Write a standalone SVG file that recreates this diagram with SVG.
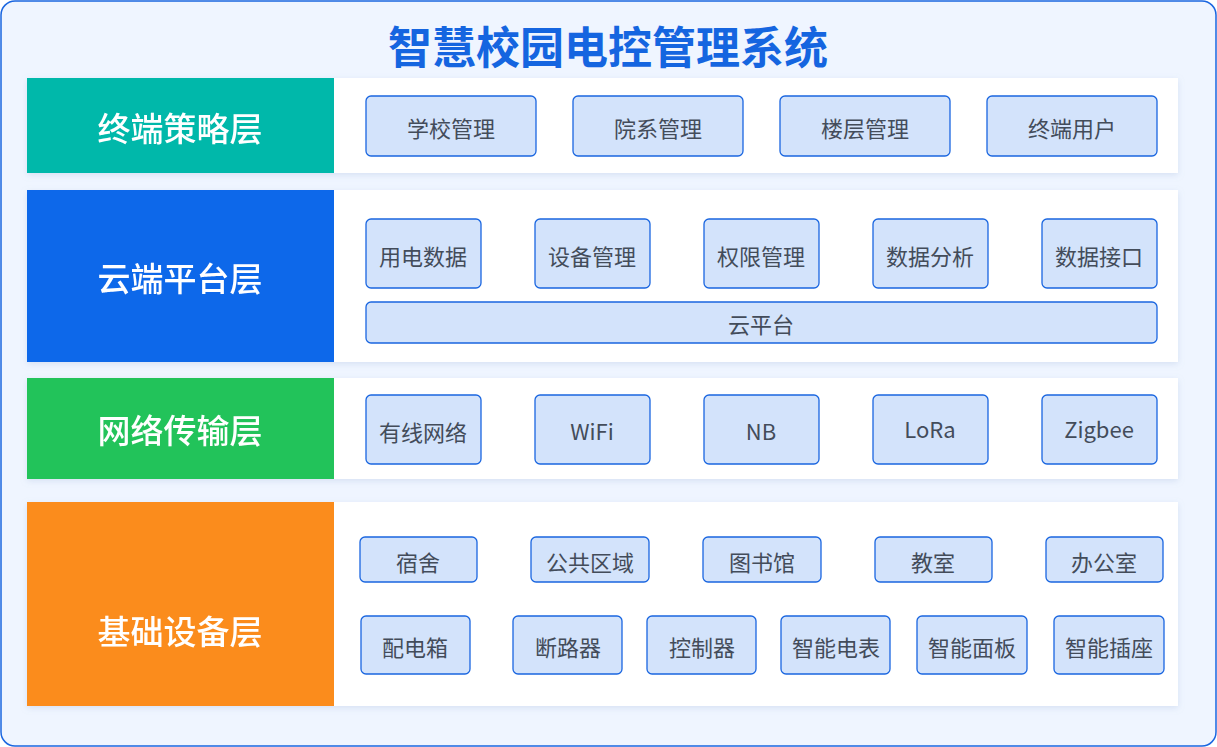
<svg xmlns="http://www.w3.org/2000/svg" width="1217" height="747" viewBox="0 0 1217 747">
<defs>
<filter id="sh" x="-5%" y="-10%" width="110%" height="130%"><feDropShadow dx="0" dy="2" stdDeviation="3" flood-color="#8aa6d0" flood-opacity="0.25"/></filter>
</defs>
<style>
text{font-family:"Noto Sans CJK SC","Noto Sans",sans-serif;text-anchor:middle;dominant-baseline:central}
.b{fill:#d3e3fb;stroke:#1a66e0;stroke-width:1.3}
.bt{fill:#434c5a;font-size:22px}
.lt{fill:#fff;font-size:33px;font-weight:500}
.p{fill:#fff}
</style>
<rect x="1" y="1" width="1215" height="745" rx="14" fill="#eff5ff" stroke="#1a66e0" stroke-width="1.5"/>
<text x="608" y="45" fill="#1565e0" font-size="44" font-weight="bold">智慧校园电控管理系统</text>
<g id="layer1" filter="url(#sh)"><rect class="p" x="27" y="78" width="1151" height="95"/><rect x="27" y="78" width="307" height="95" fill="#00b8aa"/><text class="lt" x="180" y="127">终端策略层</text></g>
<g id="layer2" filter="url(#sh)"><rect class="p" x="27" y="190" width="1151" height="172"/><rect x="27" y="190" width="307" height="172" fill="#0f68ea"/><text class="lt" x="180" y="277">云端平台层</text></g>
<g id="layer3" filter="url(#sh)"><rect class="p" x="27" y="378" width="1151" height="101"/><rect x="27" y="378" width="307" height="101" fill="#22c35a"/><text class="lt" x="180" y="429">网络传输层</text></g>
<g id="layer4" filter="url(#sh)"><rect class="p" x="27" y="502" width="1151" height="204"/><rect x="27" y="502" width="307" height="204" fill="#fb8c1c"/><text class="lt" x="180" y="630">基础设备层</text></g>
<g id="r1">
<g id="n-school"><rect class="b" x="366" y="96" width="170" height="60" rx="5"/><text class="bt" x="451" y="127">学校管理</text></g>
<g id="n-dept"><rect class="b" x="573" y="96" width="170" height="60" rx="5"/><text class="bt" x="658" y="127">院系管理</text></g>
<g id="n-floor"><rect class="b" x="780" y="96" width="170" height="60" rx="5"/><text class="bt" x="865" y="127">楼层管理</text></g>
<g id="n-user"><rect class="b" x="987" y="96" width="170" height="60" rx="5"/><text class="bt" x="1072" y="127">终端用户</text></g>
</g>
<g id="r2">
<g id="n-data"><rect class="b" x="366" y="219" width="115" height="69" rx="5"/><text class="bt" x="423" y="255">用电数据</text></g>
<g id="n-dev"><rect class="b" x="535" y="219" width="115" height="69" rx="5"/><text class="bt" x="592" y="255">设备管理</text></g>
<g id="n-perm"><rect class="b" x="704" y="219" width="115" height="69" rx="5"/><text class="bt" x="761" y="255">权限管理</text></g>
<g id="n-ana"><rect class="b" x="873" y="219" width="115" height="69" rx="5"/><text class="bt" x="930" y="255">数据分析</text></g>
<g id="n-api"><rect class="b" x="1042" y="219" width="115" height="69" rx="5"/><text class="bt" x="1099" y="255">数据接口</text></g>
<g id="n-cloud"><rect class="b" x="366" y="302" width="791" height="41" rx="5"/><text class="bt" x="761" y="323">云平台</text></g>
</g>
<g id="r3">
<g id="n-wired"><rect class="b" x="366" y="395" width="115" height="69" rx="5"/><text class="bt" x="423" y="431">有线网络</text></g>
<g id="n-wifi"><rect class="b" x="535" y="395" width="115" height="69" rx="5"/><text class="bt" x="592" y="430">WiFi</text></g>
<g id="n-nb"><rect class="b" x="704" y="395" width="115" height="69" rx="5"/><text class="bt" x="761" y="430">NB</text></g>
<g id="n-lora"><rect class="b" x="873" y="395" width="115" height="69" rx="5"/><text class="bt" x="930" y="428">LoRa</text></g>
<g id="n-zig"><rect class="b" x="1042" y="395" width="115" height="69" rx="5"/><text class="bt" x="1099" y="428">Zigbee</text></g>
</g>
<g id="r4">
<g id="n-dorm"><rect class="b" x="360" y="537" width="117" height="45" rx="5"/><text class="bt" x="418" y="561">宿舍</text></g>
<g id="n-pub"><rect class="b" x="531" y="537" width="118" height="45" rx="5"/><text class="bt" x="590" y="561">公共区域</text></g>
<g id="n-lib"><rect class="b" x="703" y="537" width="118" height="45" rx="5"/><text class="bt" x="762" y="561">图书馆</text></g>
<g id="n-class"><rect class="b" x="875" y="537" width="117" height="45" rx="5"/><text class="bt" x="933" y="561">教室</text></g>
<g id="n-office"><rect class="b" x="1046" y="537" width="117" height="45" rx="5"/><text class="bt" x="1104" y="561">办公室</text></g>
<g id="n-box"><rect class="b" x="361" y="616" width="109" height="58" rx="5"/><text class="bt" x="415" y="646">配电箱</text></g>
<g id="n-brk"><rect class="b" x="513" y="616" width="109" height="58" rx="5"/><text class="bt" x="568" y="646">断路器</text></g>
<g id="n-ctl"><rect class="b" x="647" y="616" width="109" height="58" rx="5"/><text class="bt" x="702" y="646">控制器</text></g>
<g id="n-meter"><rect class="b" x="781" y="616" width="109" height="58" rx="5"/><text class="bt" x="836" y="646">智能电表</text></g>
<g id="n-panel"><rect class="b" x="917" y="616" width="110" height="58" rx="5"/><text class="bt" x="972" y="646">智能面板</text></g>
<g id="n-sock"><rect class="b" x="1054" y="616" width="110" height="58" rx="5"/><text class="bt" x="1109" y="646">智能插座</text></g>
</g>
<g id="connectors"/>
</svg>
